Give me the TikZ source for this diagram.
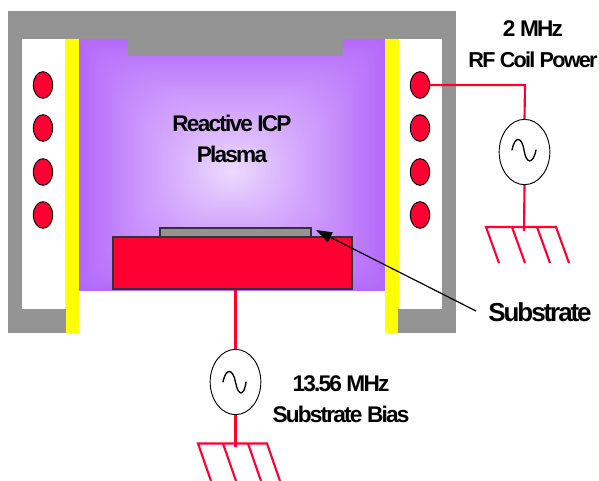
\documentclass[tikz,border=0pt]{standalone}
\usepackage{fontspec}
\setmainfont{Liberation Sans}[LetterSpace=-8]
\usetikzlibrary{shapes.geometric,arrows.meta}
\definecolor{wallgray}{HTML}{949494}
\definecolor{plasmaedge}{HTML}{B469FA}
\definecolor{plasmacore}{HTML}{EDDCFF}
\definecolor{rfred}{HTML}{FF0033}
\definecolor{wallyellow}{HTML}{FFFF00}
\tikzset{
  x=0.75pt,y=-0.75pt,
  coil/.style={ellipse,draw=black,line width=0.7pt,fill=rfred,minimum width=14.5pt,minimum height=20pt,inner sep=0pt},
  source/.style={ellipse,draw=black,line width=0.7pt,fill=white,minimum width=38pt,minimum height=49pt,inner sep=0pt},
  wire/.style={draw=rfred,line width=1.6pt},
  label/.style={font=\fontsize{17pt}{20pt}\selectfont\bfseries,text=black,inner sep=0pt,align=center},
  biglabel/.style={label,font=\fontsize{19.5pt}{22pt}\selectfont\bfseries},
  plate/.style={draw=black!80,line width=0.8pt},
  sinewave/.style={draw=black,line width=1pt,line cap=round},
}
\begin{document}
\begin{tikzpicture}
\useasboundingbox (0,0) rectangle (599,481);
% chamber wall
\fill[wallgray] (8,11) rectangle (456,333);
\fill[white] (22,39) rectangle (442,309);
\fill[white] (79,291) rectangle (385,333);
% plasma: nested rounded rectangles give the path gradient, centre (232,172)
\fill[plasmaedge] (79,39) rectangle (385,291);
\foreach \i in {1,...,59}{
  \pgfmathsetmacro{\t}{\i/60}
  \pgfmathsetmacro{\pct}{100*\t}
  \pgfmathsetmacro{\rad}{62*(1-\t)*\t*2+2*(1-\t)}
  \fill[plasmacore!\pct!plasmaedge,rounded corners=\rad pt]
    ({79+153*\t},{39+133*\t}) rectangle ({385-153*\t},{291-119*\t});
}
\fill[wallgray] (128,39) rectangle (343,56);
% yellow liners
\fill[wallyellow] (65,39) rectangle (79,333);
\fill[wallyellow] (385,39) rectangle (399,333);
\fill[wallgray] (398,309) rectangle (456,333);
\fill[wallgray] (22,309) rectangle (66,333);
% coils
\node[coil] (cl1) at (43,85) {};
\node[coil] (cl2) at (43,128) {};
\node[coil] (cl3) at (43,172) {};
\node[coil] (cl4) at (43,215) {};
\node[coil] (cr1) at (420,85) {};
\node[coil] (cr2) at (420,128) {};
\node[coil] (cr3) at (420,172) {};
\node[coil] (cr4) at (420,215) {};
% substrate and chuck
\node[plate,fill=wallgray,minimum width=113.25pt,minimum height=6.75pt,inner sep=0pt] (wafer) at (235.5,232.5) {};
\node[plate,fill=rfred,minimum width=179.25pt,minimum height=39pt,inner sep=0pt] (chuck) at (232.5,263) {};
% sources
\node[source] (srcA) at (524.5,152) {};
\node[source] (srcB) at (235.5,382) {};
\draw[sinewave] (512,150) .. controls (515,135) and (522,137) .. (524,150) .. controls (526,164) and (533,165) .. (536,150);
\draw[sinewave] (223,382) .. controls (226,367) and (233,369) .. (235.5,382) .. controls (238,396) and (244,397) .. (246,382);
% ground A
\coordinate (corner) at (525,85);
\coordinate (gA) at (524,231);
\coordinate (gAa) at (486,227); \coordinate (gAb) at (512,227);
\coordinate (gAc) at (537,227); \coordinate (gAd) at (556,227);
\coordinate (gAe) at (499,263); \coordinate (gAf) at (525,263);
\coordinate (gAg) at (550,263); \coordinate (gAh) at (569,263);
\draw[wire] (cr1.east) -- (corner) -- (srcA.north);
\draw[wire] (srcA.south) -- (gA);
\draw[wire] (gAe) -- (gAa) -- (gAd) -- (gAh);
\draw[wire] (gAb) -- (gAf);
\draw[wire] (gAc) -- (gAg);
% ground B
\coordinate (gB) at (235.5,447);
\coordinate (gBa) at (198,443.5); \coordinate (gBb) at (223,443.5);
\coordinate (gBc) at (248,443.5); \coordinate (gBd) at (267,443.5);
\coordinate (gBe) at (211,481); \coordinate (gBf) at (236,481);
\coordinate (gBg) at (261,481); \coordinate (gBh) at (280,481);
\draw[wire] (chuck.south -| srcB.north) -- (srcB.north);
\draw[wire] (srcB.south) -- (gB);
\draw[wire] (gBe) -- (gBa) -- (gBd) -- (gBh);
\draw[wire] (gBb) -- (gBf);
\draw[wire] (gBc) -- (gBg);
% labels
\node[label] (plasma) at (232,139) {Reactive ICP\\[3pt]Plasma};
\node[label] (rflabel) at (533,44) {2 MHz\\[3pt]\fontsize{16.2pt}{20pt}\selectfont RF Coil Power};
\node[label] (biaslabel) at (341,399) {13.56 MHz\\[3pt]Substrate Bias};
\node[biglabel] (sublabel) at (540,312) {Substrate};
% pointer
\coordinate (ptip) at (316,230);
\coordinate (ptail) at (476,311);
\draw[draw=black,line width=0.9pt,-{Triangle[length=12pt,width=8pt]}] (ptail) -- (ptip);
\end{tikzpicture}
\end{document}
